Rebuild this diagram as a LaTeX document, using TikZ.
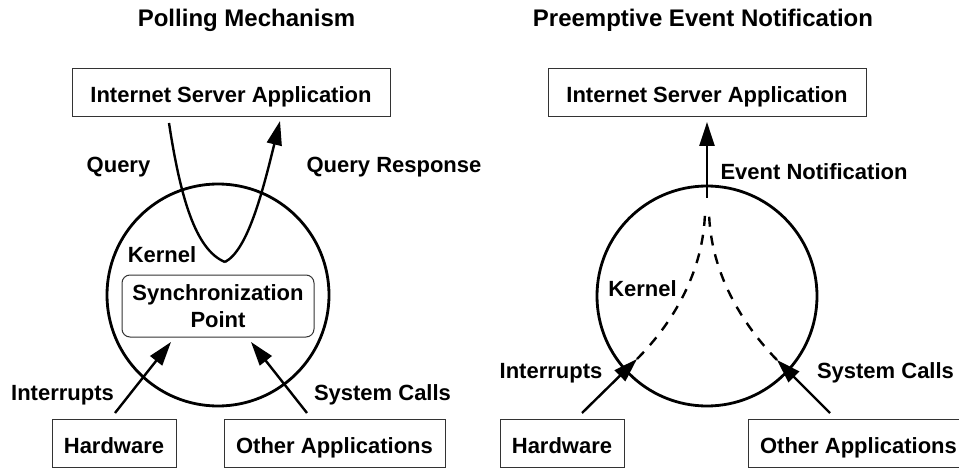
\documentclass[tikz,border=0pt]{standalone}
\usepackage{fontspec}
\setmainfont{Liberation Sans}
\usetikzlibrary{arrows.meta}
\begin{document}
\begin{tikzpicture}[x=1pt,y=-1pt,
  lbl/.style={font=\fontsize{22}{27}\selectfont\bfseries, inner sep=0pt, anchor=base},
  ttl/.style={font=\fontsize{24}{28}\selectfont\bfseries, inner sep=0pt, anchor=base},
  boxnode/.style={draw=black!80, line width=1pt, font=\fontsize{22}{27}\selectfont\bfseries,
    inner sep=0pt, text height=21pt, text depth=0pt, minimum height=48pt},
  kern/.style={circle, draw, line width=2.8pt, inner sep=0pt},
  flow/.style={line width=2.4pt, -{Triangle[length=24pt,width=15pt]}},
  dflow/.style={line width=2.4pt, dash pattern=on 10pt off 9pt},
]
\useasboundingbox (0,0) rectangle (959,468);
\clip (0,0) rectangle (959,468);

% ---------- Left: Polling Mechanism ----------
\node[ttl] (t1) at (246.5,27) {Polling Mechanism};
\node[boxnode, minimum width=318pt] (isa1) at (231,92.5) {Internet Server Application};
\node[kern, minimum size=222pt] (k1) at (218,295) {};
\node[draw=black!80, line width=1pt, rounded corners=8pt, minimum width=192pt, minimum height=62pt,
  align=center, inner sep=0pt, font=\fontsize{22}{27}\selectfont\bfseries] (sync) at (218,306)
  {Synchronization\\Point};
\node[boxnode, minimum width=124pt] (hw1) at (114,443) {Hardware};
\node[boxnode, minimum width=221pt] (oa1) at (334.5,443) {Other Applications};

\coordinate (qs) at (169,123);
\coordinate (qb) at (225,262);
\coordinate (qe) at (280,121);
\draw[line width=2.4pt] (qs) .. controls (180,195) and (195,250) .. (qb);
\draw[flow] (qb) .. controls (248,250) and (263,190) .. (qe);

\coordinate (i1s) at (115,413);
\coordinate (i1e) at (171,342);
\coordinate (s1s) at (307,413);
\coordinate (s1e) at (251,342);
\draw[flow] (i1s) -- (i1e);
\draw[flow] (s1s) -- (s1e);

\node[lbl] (q) at (118.5,173) {Query};
\node[lbl] (qr) at (394,173) {Query Response};
\node[lbl] (kl1) at (162,262) {Kernel};
\node[lbl] (int1) at (62.5,400) {Interrupts};
\node[lbl] (sc1) at (382.5,400) {System Calls};

% ---------- Right: Preemptive Event Notification ----------
\node[ttl] (t2) at (703,27) {Preemptive Event Notification};
\node[boxnode, minimum width=318pt] (isa2) at (707,92.5) {Internet Server Application};
\node[kern, minimum size=220pt] (k2) at (707,296) {};
\node[boxnode, minimum width=124pt] (hw2) at (562,443) {Hardware};
\node[boxnode, minimum width=221pt] (oa2) at (858.5,443) {Other Applications};

\coordinate (es) at (707,198);
\coordinate (ee) at (707,122);
\draw[flow] (es) -- (ee);

\coordinate (i2s) at (582,413);
\coordinate (i2e) at (637,359);
\coordinate (s2s) at (830,413);
\coordinate (s2e) at (777,360);
\coordinate (dl) at (705,211);
\coordinate (dr) at (709,211);
\draw[flow] (i2s) -- (i2e);
\draw[flow] (s2s) -- (s2e);
\draw[dflow] (i2e) .. controls (672,324) and (704,272) .. (dl);
\draw[dflow] (s2e) .. controls (742,324) and (710,272) .. (dr);

\node[lbl] (en) at (814,179) {Event Notification};
\node[lbl] (kl2) at (642.5,296) {Kernel};
\node[lbl] (int2) at (551,378) {Interrupts};
\node[lbl] (sc2) at (885.5,378) {System Calls};
\end{tikzpicture}
\end{document}
